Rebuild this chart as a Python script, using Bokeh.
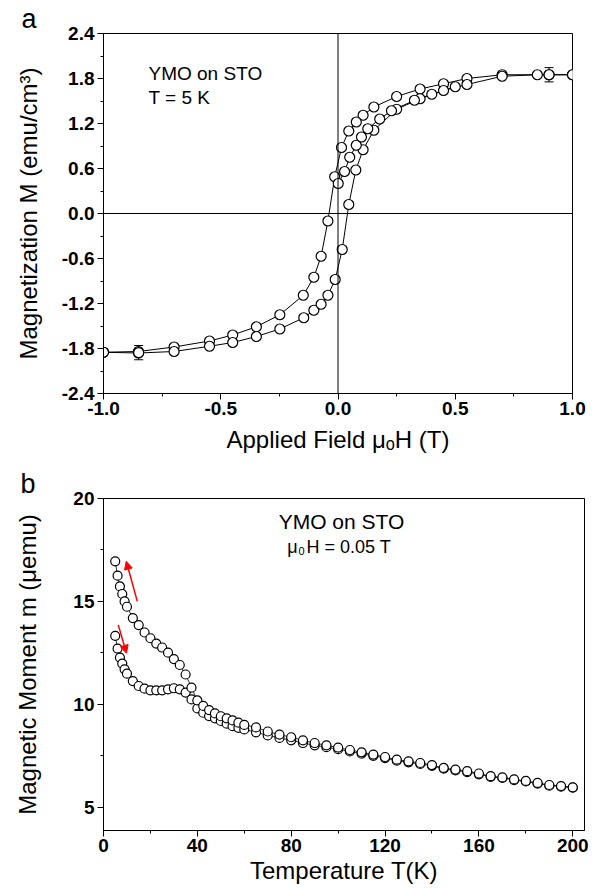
from bokeh.plotting import figure
from bokeh.models import (Range1d, Span, Label, Whisker, ColumnDataSource, Arrow,
                          NormalHead, TeeHead, FixedTicker, PrintfTickFormatter)
from bokeh.embed import file_html
from bokeh.resources import INLINE

# ---------------- data: panel a (hysteresis, T = 5 K) ----------------
H_desc = [1.0, 0.9, 0.7, 0.55, 0.45, 0.35, 0.25, 0.153, 0.107, 0.078, 0.046, 0.015,
          -0.014, -0.043, -0.072, -0.103, -0.148, -0.248, -0.348, -0.449, -0.548,
          -0.699, -0.851, -1.0]
M_desc = [1.85, 1.85, 1.85, 1.80, 1.73, 1.66, 1.56, 1.42, 1.31, 1.22, 1.10, 0.88,
          0.49, -0.10, -0.57, -0.85, -1.09, -1.35, -1.51, -1.62, -1.70,
          -1.78, -1.84, -1.85]
H_asc = [-1.0, -0.851, -0.699, -0.548, -0.449, -0.348, -0.248, -0.146, -0.103,
         -0.072, -0.043, -0.012, 0.018, 0.046, 0.076, 0.107, 0.153, 0.25, 0.35,
         0.45, 0.55, 0.70, 0.85, 1.0]
M_asc = [-1.85, -1.86, -1.84, -1.77, -1.72, -1.64, -1.54, -1.39, -1.29,
         -1.21, -1.09, -0.88, -0.48, 0.12, 0.58, 0.85, 1.11, 1.39, 1.53,
         1.64, 1.72, 1.83, 1.85, 1.85]
H_extra = [0.001, 0.028, 0.050, 0.078, 0.100, 0.127, 0.178, 0.228, 0.326, 0.40, 0.50]
M_extra = [0.40, 0.56, 0.75, 0.91, 1.02, 1.13, 1.26, 1.37, 1.51, 1.59, 1.69]
H_err = [-0.85, 0.9]
M_err = [-1.855, 1.85]
M_err_sd = [0.095, 0.095]

# ---------------- data: panel b (m vs T, 0.05 T) ----------------
T_K = [5, 6, 7, 8, 9, 10,
       12.5, 15, 17.5, 20, 22.5, 25, 27.5, 30, 32.5, 35, 37.5, 40, 42.5, 45,
       47.5, 50, 52.5, 55, 57.5, 60,
       65, 70, 75, 80, 85, 90, 95, 100, 105, 110, 115, 120, 125, 130, 135, 140,
       145, 150, 155, 160, 165, 170, 175, 180, 185, 190, 195, 200]
m_upper = [16.95, 16.25, 15.73, 15.36, 15.0, 14.74,
           14.19, 13.85, 13.49, 13.21, 12.95, 12.76, 12.51, 12.2, 11.91, 11.45,
           10.81, 10.19, 9.92, 9.72, 9.56, 9.42, 9.32, 9.22, 9.11, 9.0,
           8.88, 8.68, 8.53, 8.40, 8.25, 8.12, 8.01, 7.90, 7.78, 7.67, 7.56,
           7.44, 7.31, 7.23, 7.15, 7.05, 6.91, 6.83, 6.75, 6.64, 6.51, 6.45,
           6.35, 6.28, 6.18, 6.08, 6.03, 5.97]
m_lower = [13.33, 12.71, 12.27, 11.98, 11.70, 11.49,
           11.13, 10.89, 10.76, 10.68, 10.68, 10.68, 10.73, 10.78, 10.73, 10.57,
           10.24, 9.80, 9.59, 9.43, 9.32, 9.19, 9.06, 8.94, 8.86, 8.78,
           8.64, 8.49, 8.37, 8.25, 8.12, 8.01, 7.92, 7.82, 7.71, 7.60, 7.50,
           7.39, 7.26, 7.18, 7.10, 7.01, 6.87, 6.79, 6.71, 6.60, 6.48, 6.42,
           6.32, 6.25, 6.15, 6.05, 6.00, 5.95]

TXT = "Liberation Sans"
FIG_W = 600

# ---------------- panel a ----------------
A_L, A_T, A_W, A_H = 103, 33, 469, 360
A_FIG_H = 466
pa = figure(width=FIG_W, height=A_FIG_H, output_backend="svg", toolbar_location=None,
            x_range=Range1d(-1, 1), y_range=Range1d(-2.4, 2.4),
            min_border_left=A_L, min_border_right=FIG_W - A_L - A_W,
            min_border_top=A_T, min_border_bottom=A_FIG_H - A_T - A_H)

def xa(px):
    return -1 + (px - 103) / A_W * 2.0

def ya(py):
    return 2.4 - (py - 33) / A_H * 4.8

# ---------------- panel b ----------------
B_L, B_T, B_W, B_H = 103, 31, 481, 333
B_FIG_H = 420
B_YMIN = 3.87
pb = figure(width=FIG_W, height=B_FIG_H, output_backend="svg", toolbar_location=None,
            x_range=Range1d(0, 205), y_range=Range1d(B_YMIN, 20),
            min_border_left=B_L, min_border_right=FIG_W - B_L - B_W,
            min_border_top=B_T, min_border_bottom=B_FIG_H - B_T - B_H)

def xb(px):
    return (px - 103) / B_W * 205.0

def yb(py):
    return 20 - (py - 497) / B_H * (20 - B_YMIN)

for p in (pa, pb):
    p.background_fill_color = "white"
    p.border_fill_color = "white"
    p.outline_line_color = "black"
    p.outline_line_width = 1
    p.xgrid.visible = False
    p.ygrid.visible = False
    for ax in (p.xaxis[0], p.yaxis[0]):
        ax.axis_line_color = "black"
        ax.axis_line_width = 1
        ax.major_tick_line_color = "black"
        ax.minor_tick_line_color = "black"
        ax.major_tick_out = 6
        ax.major_tick_in = 0
        ax.minor_tick_out = 3
        ax.minor_tick_in = 0
        ax.major_label_text_font = TXT
        ax.major_label_text_font_style = "bold"
        ax.major_label_text_font_size = "19px"
        ax.major_label_text_color = "black"
        ax.axis_label_text_font = TXT
        ax.axis_label_text_font_style = "normal"
        ax.axis_label_text_font_size = "24px"
        ax.axis_label_text_color = "black"
    p.xaxis[0].major_label_standoff = 2
    p.yaxis[0].major_label_standoff = 3
    # panel letter as the plot title, pushed left of the frame
    p.title.text_font = TXT
    p.title.text_font_style = "normal"
    p.title.text_font_size = "27px"
    p.title.text_color = "black"
    p.title.align = "left"
    p.title.standoff = 0

pa.title.text = "a"
pa.title.offset = 21 - A_L
pb.title.text = "b"
pb.title.offset = 20 - B_L

pa.xaxis[0].ticker = FixedTicker(ticks=[-1, -0.5, 0, 0.5, 1],
                                 minor_ticks=[-0.75, -0.25, 0.25, 0.75])
pa.yaxis[0].ticker = FixedTicker(ticks=[-2.4, -1.8, -1.2, -0.6, 0, 0.6, 1.2, 1.8, 2.4],
                                 minor_ticks=[-2.1, -1.5, -0.9, -0.3, 0.3, 0.9, 1.5, 2.1])
pa.xaxis[0].formatter = PrintfTickFormatter(format="%.1f")
pa.yaxis[0].formatter = PrintfTickFormatter(format="%.1f")
pb.xaxis[0].ticker = FixedTicker(ticks=[0, 40, 80, 120, 160, 200],
                                 minor_ticks=[20, 60, 100, 140, 180])
pb.yaxis[0].ticker = FixedTicker(ticks=[5, 10, 15, 20], minor_ticks=[7.5, 12.5, 17.5])

pa.xaxis[0].axis_label = "Applied Field \u03bc\u2092H (T)"
pa.xaxis[0].axis_label_standoff = 8
pa.yaxis[0].axis_label = "Magnetization M (emu/cm\u00b3)"
pa.yaxis[0].axis_label_standoff = 17
pb.xaxis[0].axis_label = "Temperature T(K)"
pb.xaxis[0].axis_label_standoff = 2
pb.yaxis[0].axis_label = "Magnetic Moment m (\u03bcemu)"
pb.yaxis[0].axis_label_standoff = 29

# zero lines
pa.add_layout(Span(location=0, dimension="width", line_color="black", line_width=1))
pa.add_layout(Span(location=0, dimension="height", line_color="black", line_width=1))

# panel a lines and markers
for hx, my in ((H_desc, M_desc), (H_asc, M_asc), (H_extra, M_extra)):
    pa.line(hx, my, line_color="black", line_width=1)
err_src = ColumnDataSource(dict(x=H_err, y=M_err,
                                lo=[m - s for m, s in zip(M_err, M_err_sd)],
                                hi=[m + s for m, s in zip(M_err, M_err_sd)]))
pa.add_layout(Whisker(source=err_src, base="x", lower="lo", upper="hi",
                      line_color="black", line_width=1,
                      lower_head=TeeHead(size=9, line_color="black", line_width=1),
                      upper_head=TeeHead(size=9, line_color="black", line_width=1)))
for hx, my in ((H_desc, M_desc), (H_asc, M_asc), (H_extra, M_extra), (H_err, M_err)):
    pa.scatter(hx, my, marker="circle", size=10, fill_color="white",
               line_color="black", line_width=1.2)

# panel b lines and markers
for ys in (m_upper, m_lower):
    pb.line(T_K, ys, line_color="black", line_width=0.8)
for ys in (m_lower, m_upper):
    pb.scatter(T_K, ys, marker="circle", size=9, fill_color="white",
               line_color="black", line_width=1.2)

# red arrows
pb.add_layout(Arrow(x_start=14.4, y_start=15.0, x_end=9.7, y_end=16.95,
                    line_color="red", line_width=1.5,
                    end=NormalHead(size=8, fill_color="red", line_color="red")))
pb.add_layout(Arrow(x_start=6.3, y_start=13.86, x_end=9.8, y_end=12.48,
                    line_color="red", line_width=1.5,
                    end=NormalHead(size=8, fill_color="red", line_color="red")))

# ---------------- in-frame texts ----------------
def lab(p, x, y, text, size, align="left", baseline="alphabetic"):
    p.add_layout(Label(x=x, y=y, text=text, text_font=TXT, text_font_size=size,
                       text_align=align, text_baseline=baseline, text_color="black"))

lab(pa, xa(148), ya(73), "YMO on STO", "19px")
lab(pa, xa(148), ya(97), "T = 5 K", "19px")

lab(pb, xb(341), yb(520), "YMO on STO", "21px", align="center")
lab(pb, xb(297), yb(546), "\u03bc", "18px", align="right")
lab(pb, xb(298), yb(550), "0", "11px", align="left")
lab(pb, xb(306), yb(546), "H = 0.05 T", "18px", align="left")

# two separate roots so that the frames are not aligned with each other
open("out.html", "w").write(file_html([pa, pb], INLINE))
